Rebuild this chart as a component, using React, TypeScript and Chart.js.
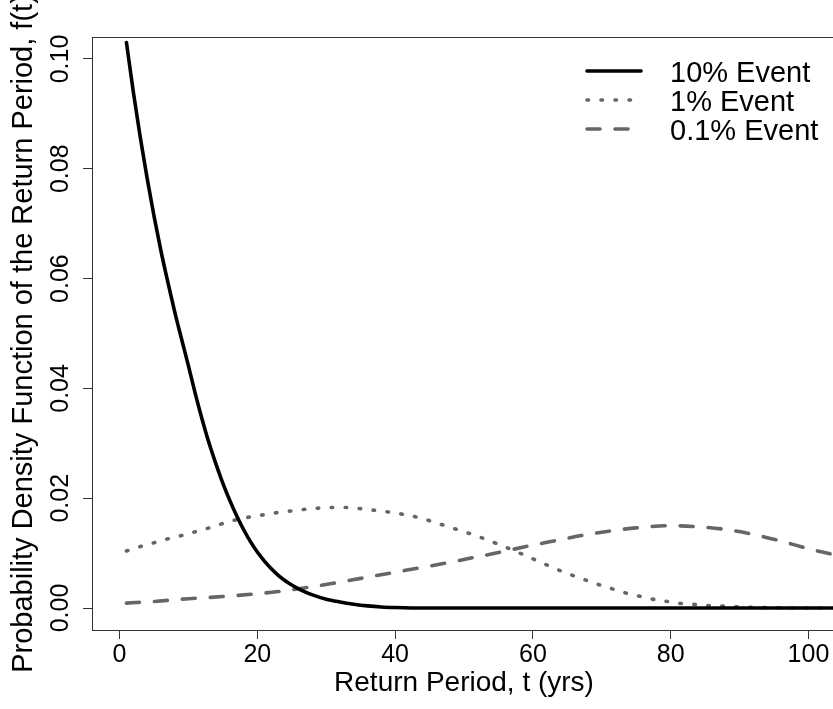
import React, { useEffect, useRef } from "react";
import { Chart, registerables } from "chart.js";

Chart.register(...registerables);

// ---- Data ----
const seriesNames = ["10% Event", "1% Event", "0.1% Event"];

const tEvent10 = [1, 2, 3, 4, 5, 6, 7, 8, 9, 10, 11, 12, 13, 14, 15, 16, 17, 18, 19, 20, 21, 22, 23, 24, 25, 26, 27, 28, 30, 32, 34, 36, 38, 40, 44, 50, 60, 70, 80, 90, 100, 110];
const fEvent10 = [0.1030, 0.0940, 0.0858, 0.0783, 0.0714, 0.0651, 0.0594, 0.0540, 0.0490, 0.0441, 0.0390, 0.0343, 0.0300, 0.0262, 0.0227, 0.0196, 0.0168, 0.0143, 0.0121, 0.0102, 0.0086, 0.0072, 0.0060, 0.0050, 0.0042, 0.0035, 0.0029, 0.0024, 0.0016, 0.0011, 0.0007, 0.0004, 0.0002, 0.0001, 0.0, 0.0, 0.0, 0.0, 0.0, 0.0, 0.0, 0.0];

const tEvent1 = [1, 3, 5, 7, 9, 11, 13, 15, 17, 19, 21, 23, 25, 27, 29, 31, 33, 35, 37, 39, 41, 43, 45, 47, 49, 51, 53, 55, 57, 59, 61, 63, 65, 67, 69, 71, 73, 75, 77, 79, 81, 83, 85, 87, 90, 94, 98, 104, 110];
const fEvent1 = [0.0104, 0.0112, 0.0119, 0.0126, 0.0132, 0.0139, 0.0146, 0.0154, 0.0161, 0.0166, 0.0170, 0.0174, 0.0177, 0.0180, 0.0182, 0.0183, 0.0183, 0.0181, 0.0178, 0.0175, 0.0171, 0.0166, 0.0159, 0.0151, 0.0143, 0.0135, 0.0126, 0.0116, 0.0106, 0.0095, 0.0084, 0.0073, 0.0063, 0.0054, 0.0045, 0.0037, 0.0029, 0.0023, 0.0017, 0.0013, 0.0009, 0.0007, 0.0005, 0.0004, 0.0002, 0.0001, 0.0, 0.0, 0.0];

const tEvent01 = [1, 5, 10, 15, 20, 23, 27, 31, 35, 39, 43, 47, 51, 55, 59, 63, 67, 71, 75, 80, 84, 88, 92, 96, 100, 104, 108];
const fEvent01 = [0.0009, 0.0012, 0.0017, 0.0021, 0.0026, 0.0030, 0.0037, 0.0045, 0.0054, 0.0063, 0.0072, 0.0081, 0.0091, 0.0101, 0.0112, 0.0122, 0.0132, 0.0140, 0.0146, 0.0150, 0.0148, 0.0143, 0.0134, 0.0122, 0.0108, 0.0096, 0.0082];

const xTickValues = [0, 20, 40, 60, 80, 100];
const xTickLabels = ["0", "20", "40", "60", "80", "100"];
const yTickValues = [0, 0.02, 0.04, 0.06, 0.08, 0.1];
const yTickLabels = ["0.00", "0.02", "0.04", "0.06", "0.08", "0.10"];

const xTitle = "Return Period, t (yrs)";
const yTitle = "Probability Density Function of the Return Period, f(t)";

const FONT = '"Liberation Sans", Arial, Helvetica, sans-serif';

function toPoints(ts: number[], vs: number[]) {
  return ts.map((t, i) => ({ x: t, y: vs[i] }));
}

const decorPlugin = {
  id: "rdecor",
  afterDraw(chart: any) {
    const { ctx, chartArea: a } = chart;
    ctx.save();
    // plot box
    ctx.strokeStyle = "#333";
    ctx.lineWidth = 1;
    ctx.setLineDash([]);
    ctx.strokeRect(Math.round(a.left) + 0.5, Math.round(a.top) + 0.5, Math.round(a.right - a.left), Math.round(a.bottom - a.top));

    // y-axis title (drawn here so it is not squeezed to the axis height)
    ctx.save();
    ctx.translate(24, (a.top + a.bottom) / 2);
    ctx.rotate(-Math.PI / 2);
    ctx.font = `29px ${FONT}`;
    ctx.fillStyle = "#000";
    ctx.textAlign = "center";
    ctx.textBaseline = "middle";
    ctx.fillText(yTitle, 0, 0);
    ctx.restore();

    // legend (R style, no box)
    const rows = [71, 100, 129];
    chart.data.datasets.forEach((ds: any, i: number) => {
      const y = rows[i];
      ctx.save();
      ctx.strokeStyle = ds.borderColor;
      ctx.lineWidth = ds.borderWidth;
      ctx.lineCap = ds.borderCapStyle || "round";
      ctx.setLineDash(ds.borderDash || []);
      ctx.beginPath();
      ctx.moveTo(587, y);
      ctx.lineTo(641, y);
      ctx.stroke();
      ctx.restore();
      ctx.font = `29px ${FONT}`;
      ctx.fillStyle = "#000";
      ctx.textAlign = "left";
      ctx.textBaseline = "alphabetic";
      ctx.fillText(ds.label, 670, y + 10.5);
    });
    ctx.restore();
  },
};

export default function App() {
  const ref = useRef<HTMLCanvasElement | null>(null);

  useEffect(() => {
    if (!ref.current) return;
    const chart = new Chart(ref.current, {
      type: "line",
      data: {
        datasets: [
          {
            label: seriesNames[0],
            data: toPoints(tEvent10, fEvent10),
            borderColor: "#000000",
            borderWidth: 3.6,
            borderCapStyle: "round",
            borderJoinStyle: "round",
            pointRadius: 0,
            cubicInterpolationMode: "monotone",
            fill: false,
          },
          {
            label: seriesNames[1],
            data: toPoints(tEvent1, fEvent1),
            borderColor: "#666666",
            borderWidth: 3.6,
            borderDash: [1.5, 12.5],
            borderCapStyle: "round",
            borderJoinStyle: "round",
            pointRadius: 0,
            cubicInterpolationMode: "monotone",
            fill: false,
          },
          {
            label: seriesNames[2],
            data: toPoints(tEvent01, fEvent01),
            borderColor: "#666666",
            borderWidth: 3.6,
            borderDash: [13, 15],
            borderCapStyle: "round",
            borderJoinStyle: "round",
            pointRadius: 0,
            cubicInterpolationMode: "monotone",
            fill: false,
          },
        ],
      },
      options: {
        animation: false,
        responsive: false,
        devicePixelRatio: 1,
        layout: { padding: { top: 37, left: 0, right: 4, bottom: 0 } },
        plugins: {
          legend: { display: false },
          tooltip: { enabled: false },
          title: { display: false },
        },
        scales: {
          x: {
            type: "linear",
            min: -4,
            max: 104,
            afterBuildTicks: (s: any) => {
              s.ticks = xTickValues.map((v) => ({ value: v }));
            },
            afterFit: (s: any) => {
              s.height = 79;
            },
            grid: { drawOnChartArea: false, drawTicks: true, tickLength: 9, color: "#333", lineWidth: 1 },
            border: { display: true, color: "#333", width: 1 },
            ticks: {
              autoSkip: false,
              maxRotation: 0,
              minRotation: 0,
              padding: 3.5,
              color: "#000",
              font: { family: FONT, size: 25, lineHeight: 1 },
              callback: (_v: any, i: number) => xTickLabels[i],
            },
            title: {
              display: true,
              text: xTitle,
              color: "#000",
              font: { family: FONT, size: 28, lineHeight: 1 },
              padding: { top: 0, bottom: 12 },
            },
          },
          y: {
            type: "linear",
            min: -0.004,
            max: 0.104,
            afterBuildTicks: (s: any) => {
              s.ticks = yTickValues.map((v) => ({ value: v }));
            },
            afterFit: (s: any) => {
              s.width = 92;
            },
            grid: { drawOnChartArea: false, drawTicks: true, tickLength: 9, color: "#333", lineWidth: 1 },
            border: { display: true, color: "#333", width: 1 },
            ticks: {
              autoSkip: false,
              minRotation: 90,
              maxRotation: 90,
              crossAlign: "center",
              padding: -2,
              color: "#000",
              font: { family: FONT, size: 25, lineHeight: 1 },
              callback: (_v: any, i: number) => yTickLabels[i],
            },
            title: { display: false },
          },
        },
      },
      plugins: [decorPlugin],
    } as any);
    return () => chart.destroy();
  }, []);

  return (
    <div
      style={{
        position: "fixed",
        left: 0,
        top: 0,
        width: 833,
        height: 709,
        overflow: "hidden",
        background: "#fff",
      }}
    >
      <canvas ref={ref} width={840} height={709} style={{ display: "block" }} />
    </div>
  );
}
